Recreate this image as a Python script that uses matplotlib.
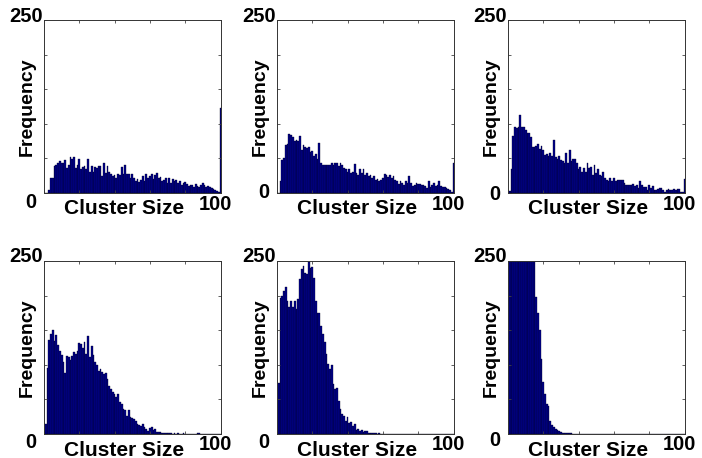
import numpy as np
import matplotlib
matplotlib.use("Agg")
import matplotlib.pyplot as plt

# cluster sizes 1..100, one histogram per panel
sizes = np.arange(1, 101)

freq_a = [0, 0, 5, 21, 22, 39, 40, 43, 46, 44,
          44, 47, 36, 41, 52, 49, 52, 36, 40, 49,
          35, 37, 39, 34, 49, 30, 39, 30, 37, 36,
          39, 39, 25, 43, 29, 39, 31, 27, 25, 26,
          21, 27, 26, 38, 28, 41, 27, 27, 21, 28,
          22, 18, 20, 16, 19, 24, 17, 27, 22, 25,
          28, 20, 26, 29, 21, 23, 17, 19, 22, 15,
          21, 14, 20, 17, 19, 15, 18, 12, 14, 16,
          13, 10, 12, 11, 9, 13, 10, 9, 12, 14,
          11, 9, 10, 8, 7, 6, 5, 3, 1, 123]

freq_b = [0, 17, 48, 50, 70, 71, 85, 84, 81, 75,
          77, 75, 83, 62, 69, 67, 65, 67, 59, 60,
          53, 57, 49, 72, 43, 41, 40, 40, 41, 40,
          43, 41, 44, 43, 39, 44, 40, 36, 34, 31,
          34, 29, 30, 42, 29, 26, 34, 29, 34, 26,
          29, 24, 26, 22, 24, 19, 20, 17, 19, 22,
          27, 26, 23, 26, 21, 25, 19, 17, 13, 17,
          15, 12, 17, 14, 25, 15, 10, 12, 14, 13,
          13, 12, 11, 10, 7, 17, 9, 11, 15, 10,
          11, 17, 10, 9, 9, 7, 6, 4, 1, 44]

freq_c = [3, 34, 82, 95, 94, 96, 112, 96, 95, 91,
          87, 86, 81, 67, 67, 68, 71, 63, 68, 62,
          55, 57, 54, 58, 53, 76, 52, 49, 53, 48,
          46, 44, 58, 44, 62, 46, 49, 49, 43, 34,
          38, 31, 36, 30, 43, 36, 38, 26, 41, 29,
          34, 26, 24, 31, 22, 19, 17, 22, 17, 22,
          17, 19, 19, 19, 19, 14, 12, 11, 12, 12,
          13, 10, 12, 7, 18, 12, 9, 9, 5, 11,
          7, 10, 5, 5, 6, 7, 7, 5, 2, 4,
          6, 4, 5, 6, 4, 6, 6, 2, 1, 20]

freq_d = [15, 96, 136, 145, 150, 135, 143, 128, 120, 114,
          104, 88, 112, 111, 107, 113, 118, 116, 120, 131,
          130, 125, 133, 116, 141, 111, 127, 114, 104, 99,
          91, 94, 89, 87, 88, 79, 70, 65, 60, 58,
          53, 58, 46, 43, 36, 34, 26, 34, 24, 23,
          21, 19, 14, 13, 12, 14, 10, 7, 5, 8,
          10, 6, 7, 3, 3, 3, 2, 2, 1, 2,
          1, 1, 0, 1, 0, 1, 0, 0, 1, 0,
          0, 0, 0, 0, 0, 0, 1, 1, 0, 0,
          0, 0, 0, 0, 0, 0, 0, 0, 0, 0]

freq_e = [74, 197, 200, 207, 212, 192, 184, 192, 184, 192,
          180, 195, 224, 238, 243, 233, 231, 248, 240, 242,
          226, 192, 175, 175, 156, 144, 133, 115, 101, 94,
          100, 72, 65, 67, 47, 36, 29, 26, 19, 25,
          16, 18, 12, 15, 6, 7, 4, 6, 3, 5,
          4, 2, 2, 1, 1, 1, 0, 1, 0, 0,
          0, 0, 0, 0, 0, 0, 0, 0, 0, 0,
          0, 0, 0, 0, 0, 0, 0, 0, 0, 0,
          0, 0, 0, 0, 0, 0, 0, 0, 0, 0,
          0, 0, 0, 0, 0, 0, 0, 0, 0, 0]

freq_f = [620, 540, 500, 470, 450, 430, 410, 390, 370, 350,
          330, 310, 295, 280, 262, 198, 175, 150, 108, 75,
          58, 43, 40, 19, 13, 10, 7, 6, 4, 3,
          2, 2, 1, 1, 1, 1, 0, 0, 0, 0,
          0, 0, 0, 0, 0, 0, 0, 0, 0, 0,
          0, 0, 0, 0, 0, 0, 0, 0, 0, 0,
          0, 0, 0, 0, 0, 0, 0, 0, 0, 0,
          0, 0, 0, 0, 0, 0, 0, 0, 0, 0,
          0, 0, 0, 0, 0, 0, 0, 0, 0, 0,
          0, 0, 0, 0, 0, 0, 0, 0, 0, 0]

panels = [freq_a, freq_b, freq_c, freq_d, freq_e, freq_f]

# vertical drop (px) of the "0" label under the baseline, as in the figure
zero_drop = [9, 0, 2, 8, 9, 6]

W, H = 702, 458
fig = plt.figure(figsize=(W / 100, H / 100), dpi=100)

lefts = [44, 277, 508]
tops = [20, 261]
aw, ah = 176.5, 173

font = dict(family="Liberation Sans", weight="bold", color="black")
pt = 0.72  # px -> points at 100 dpi

for i, freq in enumerate(panels):
    r, c = divmod(i, 3)
    x0 = lefts[c] / W
    y0 = (H - tops[r] - ah) / H
    ax = fig.add_axes([x0, y0, aw / W, ah / H])

    ax.bar(sizes, freq, width=1.0, color="#00008C", edgecolor="#000022", linewidth=0.25)

    ax.set_xlim(0, 100)
    ax.set_ylim(0, 250)
    ax.set_xticks(np.arange(0, 101, 20))
    ax.set_yticks(np.arange(0, 251, 50))
    ax.tick_params(direction="in", length=2.5, width=0.6, color="#444444",
                   top=True, right=True, labelbottom=False, labelleft=False)
    for s in ax.spines.values():
        s.set_linewidth(0.7)
        s.set_color("#333333")

    ax.annotate("250", xy=(0, 1), xycoords="axes fraction",
                xytext=(-1 * pt, 4 * pt), textcoords="offset points",
                ha="right", va="center", fontsize=14.5, **font)
    ax.annotate("0", xy=(0, 0), xycoords="axes fraction",
                xytext=(-8 * pt, -zero_drop[i] * pt), textcoords="offset points",
                ha="right", va="center", fontsize=14.5, **font)
    ax.annotate("100", xy=(1, 0), xycoords="axes fraction",
                xytext=(-5 * pt, -11 * pt), textcoords="offset points",
                ha="center", va="center", fontsize=14.5, **font)
    ax.annotate("Cluster Size", xy=(0.5, 0), xycoords="axes fraction",
                xytext=(-8 * pt, -16 * pt), textcoords="offset points",
                ha="center", va="center", fontsize=15, **font)
    ax.annotate("Frequency", xy=(0, 0.5), xycoords="axes fraction",
                xytext=(-17 * pt, 0), textcoords="offset points",
                ha="center", va="center", rotation=90, fontsize=14, **font)

fig.savefig("out.png", dpi=100)
